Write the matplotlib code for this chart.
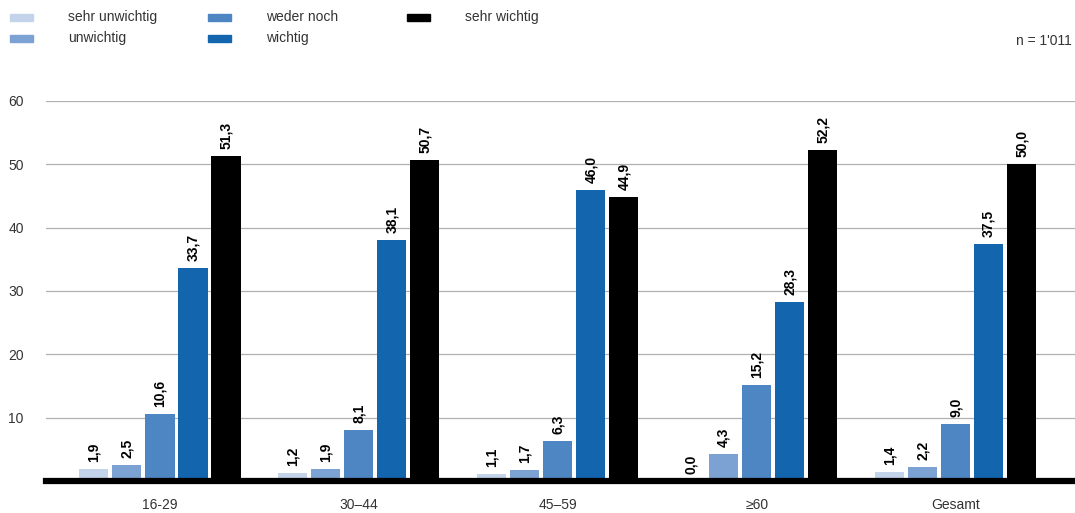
import matplotlib.pyplot as plt
from matplotlib.patches import Rectangle
import numpy as np

plt.rcParams['font.family'] = ['Liberation Sans', 'DejaVu Sans']

groups = ['16-29', '30–44', '45–59', '≥60', 'Gesamt']
series = ['sehr unwichtig', 'unwichtig', 'weder noch', 'wichtig', 'sehr wichtig']
sehr_unwichtig = [1.9, 1.2, 1.1, 0.0, 1.4]
unwichtig = [2.5, 1.9, 1.7, 4.3, 2.2]
weder_noch = [10.6, 8.1, 6.3, 15.2, 9.0]
wichtig = [33.7, 38.1, 46.0, 28.3, 37.5]
sehr_wichtig = [51.3, 50.7, 44.9, 52.2, 50.0]
values = [sehr_unwichtig, unwichtig, weder_noch, wichtig, sehr_wichtig]
colors = ['#c3d3ea', '#7ba2d3', '#4d86c3', '#1366ae', '#000000']

fig = plt.figure(figsize=(10.75, 5.13), dpi=100)
ax = fig.add_axes([46 / 1075, 1 - 481 / 513, (1075 - 46) / 1075, 380 / 513])

x = np.arange(len(groups))
w = 0.146
step = 0.166
for i, (vals, col) in enumerate(zip(values, colors)):
    xs = x + (i - 2) * step
    ax.bar(xs, vals, width=w, color=col, zorder=3)
    for xi, v in zip(xs, vals):
        ax.annotate(f'{v:.1f}'.replace('.', ','), (xi, v), xytext=(0, 5),
                    textcoords='offset points', rotation=90, ha='center',
                    va='bottom', fontsize=10, fontweight='bold', zorder=4)

ax.set_xlim(-0.573, 4.6)
ax.set_ylim(0, 60)
ax.set_yticks([10, 20, 30, 40, 50, 60])
ax.set_xticks(x)
ax.set_xticklabels(groups)
ax.grid(axis='y', color='#b0b0b0', linewidth=0.9, zorder=0)
for s in ['top', 'right', 'left']:
    ax.spines[s].set_visible(False)
ax.spines['bottom'].set_linewidth(4.5)
ax.spines['bottom'].set_zorder(5)
ax.tick_params(length=0, labelsize=10, colors='#333333')
ax.tick_params(axis='x', pad=12)
ax.tick_params(axis='y', pad=16)

# legend
legend_pos = [(10, 17), (10, 38), (208, 17), (208, 38), (407, 17)]
for (px, py), name, col in zip(legend_pos, series, colors):
    fig.patches.append(Rectangle((px / 1075, 1 - (py + 4) / 513), 23 / 1075, 7 / 513,
                                 transform=fig.transFigure, color=col))
    fig.text((px + 58) / 1075, 1 - py / 513, name, fontsize=10, va='center',
             color='#333333')
fig.text(1072 / 1075, 1 - 41 / 513, "n = 1'011", fontsize=10, ha='right',
         va='center', color='#333333')

fig.savefig('out.png', dpi=100)
